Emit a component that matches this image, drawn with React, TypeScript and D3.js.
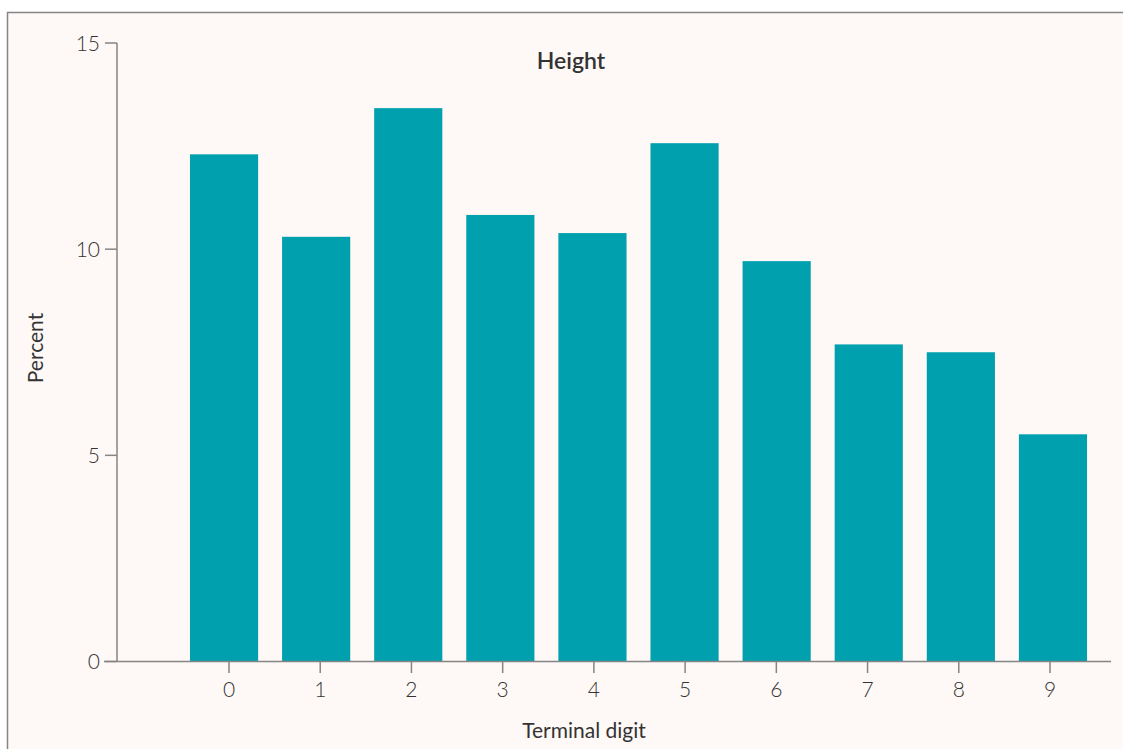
import React from "react";
import * as d3 from "d3";

const digits = ["0", "1", "2", "3", "4", "5", "6", "7", "8", "9"];
const percents = [12.3, 10.3, 13.42, 10.83, 10.39, 12.57, 9.71, 7.69, 7.5, 5.51];
const yTicks = [0, 5, 10, 15];
const title = "Height";
const xLabel = "Terminal digit";
const yLabel = "Percent";

const W = 1123;
const H = 749;
const FONT = "Lato, 'Open Sans', sans-serif";
const TEXT = "#333";
const AXIS = "#858585";
const BAR = "#00a0af";
const BG = "#fef9f6";

export default function App() {
  const y = d3.scaleLinear().domain([0, 15]).range([661.5, 43]);
  const xBand = d3
    .scaleBand<string>()
    .domain(digits)
    .range([178, 1099])
    .paddingInner(0.26)
    .paddingOuter(0.13);
  const xTick = d3.scaleLinear().domain([0, 9]).range([229, 1050]);

  return (
    <svg
      width={W}
      height={H}
      style={{ position: "absolute", left: 0, top: 0, display: "block" }}
    >
      <rect x={0} y={0} width={W} height={H} fill="#ffffff" />
      <rect x={7.5} y={12.5} width={W + 20} height={H + 20} fill={BG} stroke={AXIS} strokeWidth={1.5} />
      <text x={571} y={69} textAnchor="middle" fontFamily={FONT} fontSize={23} fontWeight={600} fill={TEXT}>
        {title}
      </text>
      {digits.map((d, i) => (
        <rect
          key={d}
          x={xBand(d)}
          y={y(percents[i])}
          width={xBand.bandwidth()}
          height={y(0) - y(percents[i])}
          fill={BAR}
        />
      ))}
      <line x1={117} x2={117} y1={y(15)} y2={y(0)} stroke={AXIS} strokeWidth={1.5} />
      {yTicks.map((t) => (
        <g key={t}>
          <line x1={105} x2={117} y1={y(t)} y2={y(t)} stroke={AXIS} strokeWidth={1.5} />
          <text x={100} y={y(t)} dy="0.36em" textAnchor="end" fontFamily={FONT} fontSize={21} fontWeight={300} fill={TEXT}>
            {t}
          </text>
        </g>
      ))}
      <line x1={104} x2={1111} y1={y(0)} y2={y(0)} stroke={AXIS} strokeWidth={1.5} />
      {digits.map((d, i) => (
        <g key={"t" + d}>
          <line x1={xTick(i)} x2={xTick(i)} y1={y(0)} y2={673} stroke={AXIS} strokeWidth={1.5} />
          <text x={xTick(i)} y={697} textAnchor="middle" fontFamily={FONT} fontSize={21} fontWeight={300} fill={TEXT}>
            {d}
          </text>
        </g>
      ))}
      <text x={584} y={738} textAnchor="middle" fontFamily={FONT} fontSize={21} fill={TEXT}>
        {xLabel}
      </text>
      <text
        transform={`translate(43, 348) rotate(-90)`}
        textAnchor="middle"
        fontFamily={FONT}
        fontSize={21}
        fill={TEXT}
      >
        {yLabel}
      </text>
    </svg>
  );
}
